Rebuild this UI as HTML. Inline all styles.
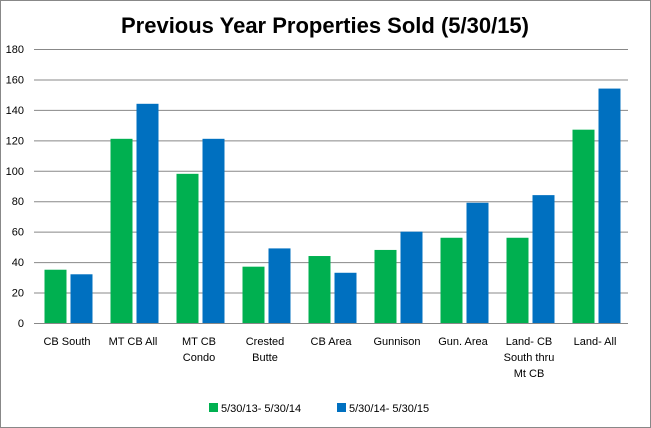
<!DOCTYPE html>
<html><head><meta charset="utf-8"><style>
body{margin:0;background:#fff;}
svg{display:block;font-family:"Liberation Sans",Calibri,sans-serif;}
</style></head><body>
<svg width="651" height="428" id="c">
<rect x="0.5" y="0.5" width="650" height="427" fill="#fff" stroke="#888"/>
<text x="325" y="33" text-anchor="middle" font-size="22" font-weight="bold">Previous Year Properties Sold (5/30/15)</text>
<g id="grid"></g><g id="bars"></g><g id="xl"></g>
<g>
<rect x="209" y="403" width="9" height="9" fill="#00B050"/>
<text x="221" y="412" font-size="11">5/30/13- 5/30/14</text>
<rect x="337" y="403" width="9" height="9" fill="#0070C0"/>
<text x="349" y="412" font-size="11">5/30/14- 5/30/15</text>
</g>
</svg>
<script>
const categories=[["CB South"],["MT CB All"],["MT CB","Condo"],["Crested","Butte"],["CB Area"],["Gunnison"],["Gun. Area"],["Land- CB","South thru","Mt CB"],["Land- All"]];
const series2014=[35,121,98,37,44,48,56,56,127];
const series2015=[32,144,121,49,33,60,79,84,154];
const yTicks=[0,20,40,60,80,100,120,140,160,180];
const NS="http://www.w3.org/2000/svg";
const X0=34,X1=628,Y0=323,Y1=49,YMAX=180;
const cw=(X1-X0)/categories.length;
function y(v){return Y0-(v/YMAX)*(Y0-Y1);}
function mk(t,a,p,name){const e=document.createElementNS(NS,t);for(const k in a)e.setAttribute(k,a[k]);


p.appendChild(e);return e;}
const g=document.getElementById('grid'),b=document.getElementById('bars'),xl=document.getElementById('xl');
yTicks.forEach(t=>{
 mk('line',{x1:X0,x2:X1,y1:y(t)+0.5,y2:y(t)+0.5,stroke:t===0?'#888':'#888','stroke-width':1},g,'gridline-'+t);
 const tx=mk('text',{x:24,y:y(t)+4,'text-anchor':'end','font-size':11},g,'y-tick-'+t);tx.textContent=t;
});
categories.forEach((c,i)=>{
 const cx=X0+cw*i+cw/2;
 mk('rect',{x:cx-22.5,y:y(series2014[i]),width:22,height:Y0-y(series2014[i]),fill:'#00B050'},b,'bar-2014-'+i);
 mk('rect',{x:cx+3.5,y:y(series2015[i]),width:22,height:Y0-y(series2015[i]),fill:'#0070C0'},b,'bar-2015-'+i);
 c.forEach((l,j)=>{const t=mk('text',{x:cx,y:345+j*16,'text-anchor':'middle','font-size':11},xl,'x-label-'+i);t.textContent=l;});
});
</script>
</body></html>
